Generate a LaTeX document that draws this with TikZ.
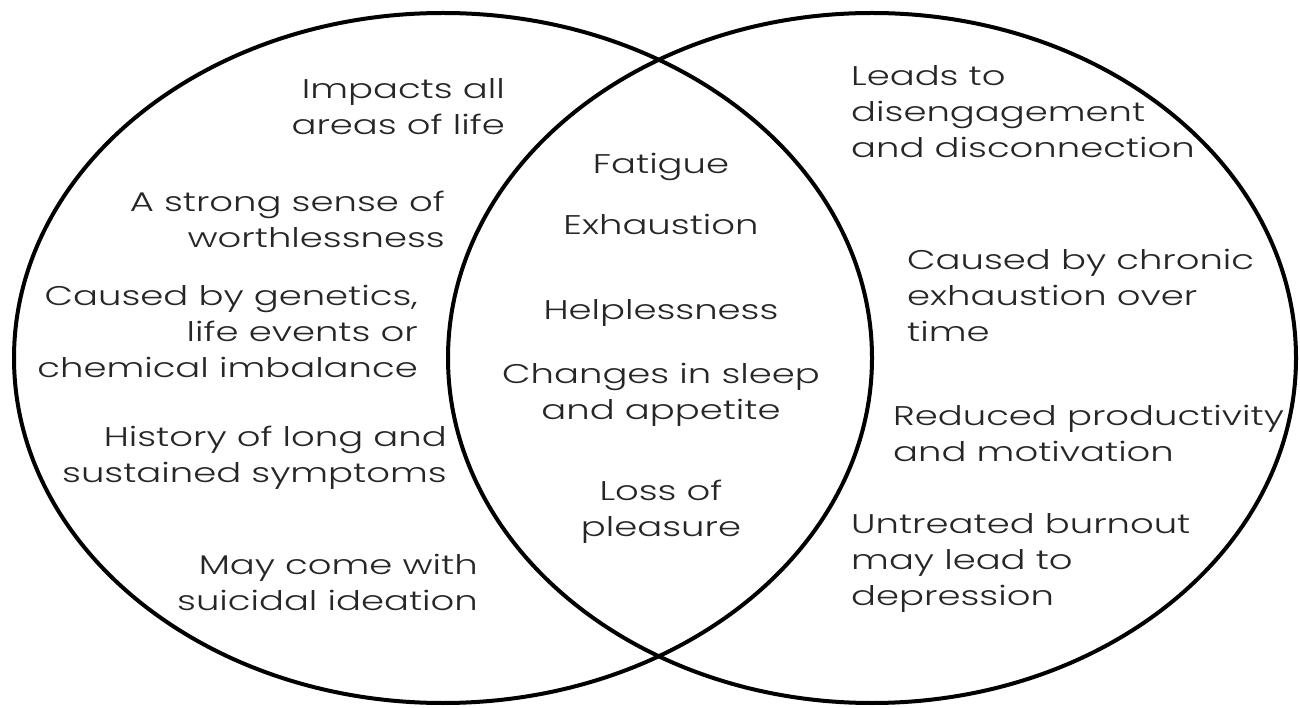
\documentclass[tikz,border=0pt]{standalone}
\usepackage{fontspec}
\setmainfont{Poppins Light}[FakeStretch=1.37]
\usetikzlibrary{positioning}

\tikzset{
  ring/.style={draw=black, line width=4pt},
  basetext/.style={inner sep=0pt, text=black!85,
                   font=\fontsize{27}{36}\selectfont},
  ltext/.style={basetext, anchor=east, align=right},
  ctext/.style={basetext, anchor=center, align=center},
  rtext/.style={basetext, anchor=west, align=left}
}

\begin{document}
\begin{tikzpicture}[x=1pt, y=1pt]
    \useasboundingbox (0,0) rectangle (1300,707);

    % Circles
    \draw[ring] (443,349) ellipse [x radius=429pt, y radius=345pt];
    \draw[ring] (872,349) ellipse [x radius=424pt, y radius=345pt];

    % Depression side
    \node[ltext] (impact)   at (505,600) {Impacts all\\areas of life};
    \node[ltext] (worth)    at (445,488) {A strong sense of\\worthlessness};
    \node[ltext] (genetics) at (418,376) {Caused by genetics,\\life events or\\chemical imbalance};
    \node[ltext] (history)  at (447,249) {History of long and\\sustained symptoms};
    \node[ltext] (ideation) at (478,125) {May come with\\suicidal ideation};

    % Shared
    \node[ctext] (fatigue)  at (661,540) {Fatigue};
    \node[ctext] (exhaust)  at (661,483) {Exhaustion};
    \node[ctext] (helpless) at (661,394) {Helplessness};
    \node[ctext] (sleep)    at (661,312) {Changes in sleep\\and appetite};
    \node[ctext] (pleasure) at (661,195) {Loss of\\pleasure};

    % Burnout side
    \node[rtext] (leads)     at (851,595) {Leads to\\disengagement\\and disconnection};
    \node[rtext] (chronic)   at (907,412) {Caused by chronic\\exhaustion over\\time};
    \node[rtext] (reduced)   at (893,274) {Reduced productivity\\and motivation};
    \node[rtext] (untreated) at (851,144) {Untreated burnout\\may lead to\\depression};

\end{tikzpicture}
\end{document}
